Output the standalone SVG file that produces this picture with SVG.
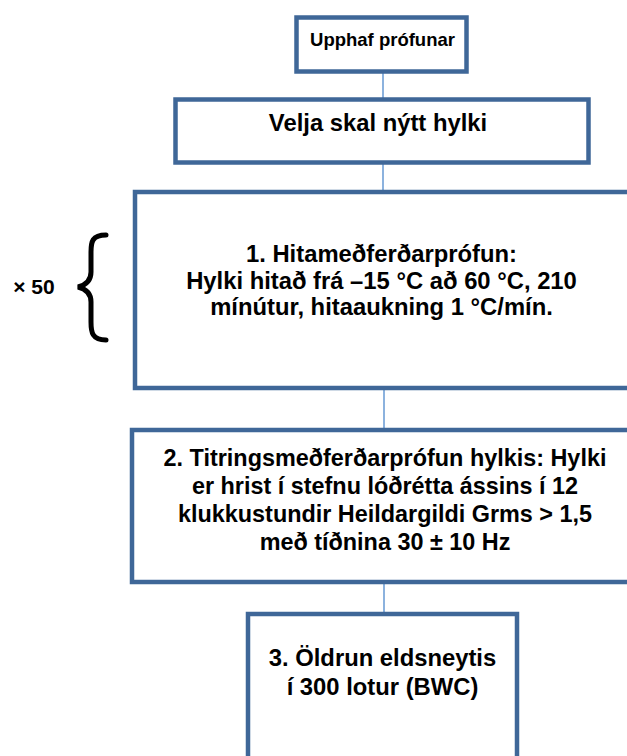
<svg xmlns="http://www.w3.org/2000/svg" width="627" height="756" viewBox="0 0 627 756">
<style>
.box{fill:#ffffff;stroke:#3f6798;stroke-width:4.5}
.conn{stroke:#8cb2de;stroke-width:2;fill:none}
text{font-family:"Liberation Sans",Arial,sans-serif;font-weight:bold;fill:#000;text-anchor:middle}
.t19{font-size:18.5px}
.t24{font-size:23.8px}
.t23{font-size:23.4px}
</style>
<rect width="627" height="756" fill="#ffffff"/>
<g id="connectors">
<line class="conn" x1="383" y1="71" x2="383" y2="99"/>
<line class="conn" x1="383" y1="163" x2="383" y2="192"/>
<line class="conn" x1="384" y1="388" x2="384" y2="430"/>
<line class="conn" x1="384" y1="582" x2="384" y2="614"/>
</g>
<g id="start">
<rect class="box" x="296.5" y="17.5" width="170" height="54"/>
<text class="t19" x="382.5" y="46">Upphaf prófunar</text>
</g>
<g id="select">
<rect class="box" x="175.5" y="99.5" width="413" height="63"/>
<text class="t24" x="378" y="131">Velja skal nýtt hylki</text>
</g>
<g id="step1">
<rect class="box" x="135" y="192" width="510" height="196"/>
<text class="t24" x="381.5" y="262">1. Hitameðferðarprófun:</text>
<text class="t24" x="381.5" y="288.5">Hylki hitað frá –15 °C að 60 °C, 210</text>
<text class="t24" x="381.5" y="315">mínútur, hitaaukning 1 °C/mín.</text>
</g>
<g id="repeat">
<text x="34" y="294" style="font-size:21px">× 50</text>
<path d="M106,235 C92,235 91,242 91,252 L91,272 C91,281 86,285 78,287 C86,289 91,293 91,302 L91,322 C91,332 92,340 106,340" fill="none" stroke="#000" stroke-width="5" stroke-linecap="round"/>
</g>
<g id="step2">
<rect class="box" x="132" y="430" width="510" height="152"/>
<text class="t23" x="385" y="466">2. Titringsmeðferðarprófun hylkis: Hylki</text>
<text class="t23" x="385" y="494">er hrist í stefnu lóðrétta ássins í 12</text>
<text class="t23" x="385" y="522">klukkustundir Heildargildi Grms &gt; 1,5</text>
<text class="t23" x="385" y="550">með tíðnina 30 ± 10 Hz</text>
</g>
<g id="step3">
<rect class="box" x="248" y="614" width="269" height="170"/>
<text class="t24" x="382.5" y="666">3. Öldrun eldsneytis</text>
<text class="t24" x="382.5" y="695">í 300 lotur (BWC)</text>
</g>
</svg>
